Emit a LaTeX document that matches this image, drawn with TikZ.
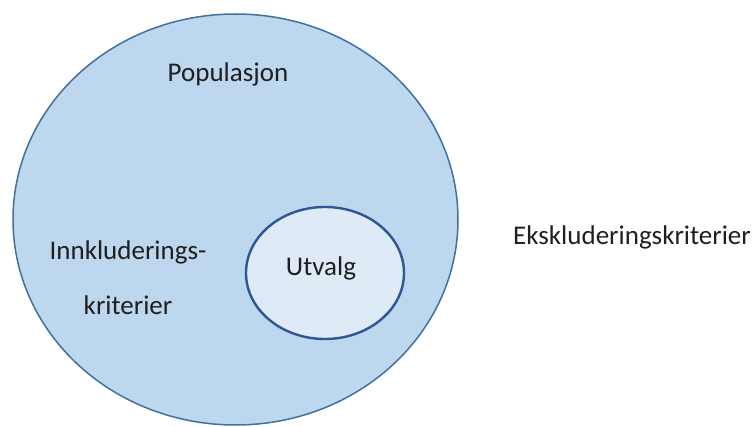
\documentclass[tikz,border=0pt]{standalone}
\usepackage{fontspec}
\setmainfont{Carlito}
\usetikzlibrary{shapes.geometric}
\definecolor{popfill}{HTML}{BDD7EE}
\definecolor{popline}{HTML}{41719C}
\definecolor{selfill}{HTML}{DEEBF7}
\definecolor{selline}{HTML}{2F5597}
\definecolor{darktext}{HTML}{1F1F1F}

\begin{document}
\begin{tikzpicture}[x=1pt, y=-1pt,
  set/.style={ellipse, inner sep=0pt, outer sep=0pt},
  label/.style={font=\fontsize{27}{55}\selectfont, text=darktext, inner sep=0pt, align=center},
]
  \useasboundingbox (0,0) rectangle (756,427);
  \node[set, fill=popfill, draw=popline, line width=1.5pt, minimum width=445pt, minimum height=411pt] (pop) at (235.5,219.5) {};
  \node[set, fill=selfill, draw=selline, line width=2.4pt, minimum width=158pt, minimum height=132pt] (utv) at (325,273) {};
  \node[label] (poplabel) at (228,74) {Populasjon};
  \node[label] (utvlabel) at (321,268) {Utvalg};
  \node[label] (inkl) at (128,278) {Innkluderings-\\kriterier};
  \node[label] (eksk) at (632,237) {Ekskluderingskriterier};
\end{tikzpicture}
\end{document}
